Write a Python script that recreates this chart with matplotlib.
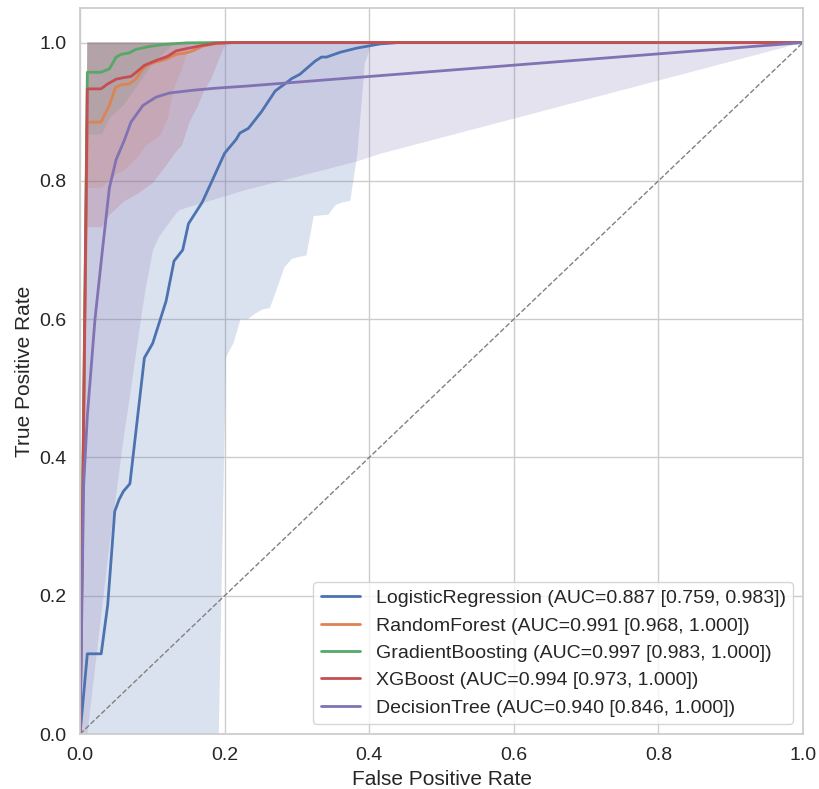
import numpy as np
import matplotlib
matplotlib.use("Agg")
import matplotlib.pyplot as plt
import seaborn as sns

sns.set_theme(style="whitegrid")
plt.rcParams['font.family'] = ['Liberation Sans', 'DejaVu Sans']

models = ["LogisticRegression", "RandomForest", "GradientBoosting", "XGBoost", "DecisionTree"]
auc = [0.887, 0.991, 0.997, 0.994, 0.940]
ci_lo = [0.759, 0.968, 0.983, 0.973, 0.846]
ci_hi = [0.983, 1.000, 1.000, 1.000, 1.000]
colors = ["#4C72B0", "#DD8452", "#55A868", "#C44E52", "#8172B3"]

# mean ROC curves
lr_x = [0, 0.0101, 0.0293, 0.0383, 0.048, 0.054, 0.060, 0.069, 0.089, 0.1005, 0.119, 0.130, 0.142, 0.150,
        0.169, 0.1835, 0.200, 0.216, 0.221, 0.233, 0.251, 0.270, 0.283, 0.293, 0.304, 0.325, 0.334, 0.341,
        0.360, 0.383, 0.399, 0.415, 0.44, 1.0]
lr_y = [0, 0.116, 0.116, 0.187, 0.322, 0.339, 0.351, 0.362, 0.544, 0.565, 0.626, 0.684, 0.700, 0.738,
        0.769, 0.802, 0.840, 0.860, 0.869, 0.876, 0.900, 0.930, 0.940, 0.948, 0.954, 0.973, 0.979, 0.979,
        0.986, 0.992, 0.995, 0.998, 1.0, 1.0]
rf_x = [0, 0.0101, 0.029, 0.0406, 0.049, 0.057, 0.068, 0.077, 0.087, 0.094, 0.105, 0.119, 0.133, 0.147,
        0.156, 0.170, 0.188, 0.206, 1.0]
rf_y = [0, 0.885, 0.885, 0.909, 0.935, 0.939, 0.940, 0.947, 0.962, 0.968, 0.972, 0.976, 0.983, 0.985,
        0.988, 0.995, 0.9985, 1.0, 1.0]
gb_x = [0, 0.0101, 0.029, 0.0406, 0.050, 0.057, 0.068, 0.077, 0.094, 0.114, 0.147, 0.19, 1.0]
gb_y = [0, 0.957, 0.957, 0.962, 0.979, 0.983, 0.985, 0.990, 0.994, 0.997, 0.9995, 1.0, 1.0]
xgb_x = [0, 0.0101, 0.029, 0.038, 0.050, 0.059, 0.0705, 0.080, 0.089, 0.105, 0.121, 0.133, 0.151, 0.170,
         0.188, 0.214, 1.0]
xgb_y = [0, 0.933, 0.933, 0.940, 0.947, 0.949, 0.951, 0.959, 0.967, 0.974, 0.980, 0.988, 0.992, 0.996,
         0.999, 1.0, 1.0]
dt_x = [0, 0.005, 0.0101, 0.0207, 0.031, 0.0406, 0.050, 0.061, 0.0705, 0.087, 0.105, 0.1235, 0.156, 0.188,
        0.230, 1.0]
dt_y = [0, 0.36, 0.46, 0.60, 0.70, 0.79, 0.831, 0.858, 0.885, 0.909, 0.921, 0.927, 0.931, 0.934, 0.937, 1.0]

# band upper edges
up_x = [0, 0.0101, 1.0]
up_y = [0, 1.0, 1.0]

# band lower edges
lr_lo_x = [0, 0.0101, 0.1919, 0.2020, 0.2121, 0.2222, 0.2323, 0.2424, 0.2525, 0.2626, 0.2727, 0.2828,
           0.2929, 0.3030, 0.3131, 0.3232, 0.3333, 0.3434, 0.3535, 0.3636, 0.3737, 0.3838, 0.3939, 0.4040, 1.0]
lr_lo_y = [0, 0.0, 0.0, 0.545, 0.565, 0.600, 0.600, 0.608, 0.614, 0.616, 0.645, 0.675,
           0.687, 0.690, 0.692, 0.749, 0.750, 0.751, 0.765, 0.769, 0.771, 0.840, 0.970, 1.0, 1.0]
rf_lo_x = [0, 0.0101, 0.0303, 0.0404, 0.0505, 0.0606, 0.0707, 0.0808, 0.0909, 0.1010, 0.1111, 0.1212,
           0.1313, 0.1414, 0.1515, 1.0]
rf_lo_y = [0, 0.790, 0.790, 0.800, 0.810, 0.815, 0.825, 0.835, 0.851, 0.858, 0.866, 0.890,
           0.938, 0.962, 1.0, 1.0]
gb_lo_x = [0, 0.0101, 0.0303, 0.0404, 0.0606, 0.0808, 0.1010, 0.1313, 1.0]
gb_lo_y = [0, 0.867, 0.867, 0.890, 0.910, 0.940, 0.970, 1.0, 1.0]
xgb_lo_x = [0, 0.0101, 0.0303, 0.0404, 0.0505, 0.0606, 0.0808, 0.1010, 0.1212, 0.1313, 0.1414, 0.1515,
            0.1616, 0.1717, 0.1818, 0.1919, 0.2020, 1.0]
xgb_lo_y = [0, 0.733, 0.733, 0.750, 0.760, 0.770, 0.782, 0.797, 0.825, 0.840, 0.852, 0.885,
            0.905, 0.930, 0.948, 0.975, 1.0, 1.0]
dt_lo_x = [0, 0.0101, 0.0202, 0.0303, 0.0404, 0.0505, 0.0606, 0.0707, 0.0808, 0.0909, 0.1010, 0.110,
           0.133, 0.138, 0.23, 0.383, 0.415, 1.0]
dt_lo_y = [0, 0.0, 0.09, 0.18, 0.27, 0.35, 0.43, 0.50, 0.575, 0.645, 0.70, 0.72,
           0.753, 0.758, 0.787, 0.828, 0.839, 1.0]

curves = [(lr_x, lr_y), (rf_x, rf_y), (gb_x, gb_y), (xgb_x, xgb_y), (dt_x, dt_y)]
lowers = [(lr_lo_x, lr_lo_y), (rf_lo_x, rf_lo_y), (gb_lo_x, gb_lo_y), (xgb_lo_x, xgb_lo_y), (dt_lo_x, dt_lo_y)]

fig = plt.figure(figsize=(8.2, 7.89), dpi=100)
ax = fig.add_axes([0.0976, 0.0697, 0.8817, 0.9202])

for name, a, lo, hi, c, (cx, cy), (lx, ly) in zip(models, auc, ci_lo, ci_hi, colors, curves, lowers):
    ax.plot(cx, cy, color=c, lw=2, label=f"{name} (AUC={a:.3f} [{lo:.3f}, {hi:.3f}])")
    px = list(up_x) + list(lx)[::-1]
    py = list(up_y) + list(ly)[::-1]
    ax.fill(px, py, color=c, alpha=0.2, lw=0)

ax.plot([0, 1], [0, 1], ls="--", color="gray", lw=1)

ax.set_xlim(0, 1)
ax.set_ylim(0, 1.05)
ax.set_xticks([0, 0.2, 0.4, 0.6, 0.8, 1.0])
ax.set_yticks([0, 0.2, 0.4, 0.6, 0.8, 1.0])
ax.set_xticklabels(["0.0", "0.2", "0.4", "0.6", "0.8", "1.0"])
ax.set_yticklabels(["0.0", "0.2", "0.4", "0.6", "0.8", "1.0"])
ax.set_xlabel("False Positive Rate", fontsize=15)
ax.set_ylabel("True Positive Rate", fontsize=15)
ax.tick_params(labelsize=14)
ax.legend(loc="lower right", fontsize=14)

fig.savefig("out.png", dpi=100)
